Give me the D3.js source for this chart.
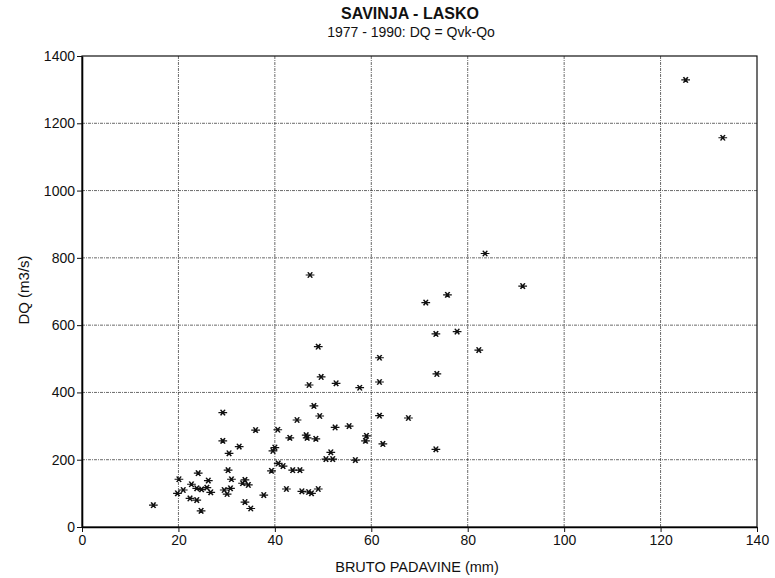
<!DOCTYPE html>
<html>
<head>
<meta charset="utf-8">
<script src="https://cdn.jsdelivr.net/npm/d3@7"></script>
<style>
  body { margin: 0; background: #fff; }
  text { font-family: "Liberation Sans", Arial, sans-serif; fill: #111; }
</style>
</head>
<body>
<div id="chartTarget"></div>
<script>
// rainfall (mm) vs. DQ (m3/s)
const padavine = [
  125.2, 132.9, 83.6, 91.4, 75.8, 71.3, 73.4, 77.8, 82.3, 47.3,
  49.0, 61.7, 73.6, 49.6, 47.1, 52.7, 57.6, 61.7, 48.1, 49.3,
  61.7, 67.7, 44.6, 40.6, 36.0, 43.1, 46.5, 46.7, 48.5, 52.5,
  55.4, 59.0, 58.8, 62.4, 73.4, 39.6, 40.0, 51.6, 50.6, 52.0,
  56.7, 40.7, 41.7, 39.3, 43.7, 45.2, 42.4, 45.6, 47.0, 47.6,
  49.0, 37.7, 29.2, 29.2, 32.6, 30.5, 24.1, 30.3, 20.1, 26.2,
  22.7, 31.0, 33.8, 33.3, 34.5, 23.8, 24.8, 25.9, 26.7, 21.0,
  19.8, 29.5, 30.8, 30.1, 22.4, 23.8, 33.8, 35.0, 14.8, 24.7
];
const dq = [
  1329, 1157, 813, 716, 690, 667, 574, 581, 526, 749,
  536, 503, 455, 446, 422, 427, 414, 431, 360, 330,
  331, 324, 318, 289, 288, 265, 273, 265, 262, 296,
  300, 271, 256, 247, 231, 226, 236, 222, 202, 202,
  199, 189, 181, 167, 169, 169, 113, 106, 104, 100,
  113, 95, 340, 256, 239, 219, 160, 169, 142, 138,
  127, 142, 140, 130, 125, 115, 112, 117, 103, 110,
  100, 110, 115, 98, 85, 80, 74, 55, 65, 48
];
const xTicks = [0, 20, 40, 60, 80, 100, 120, 140];
const yTicks = [0, 200, 400, 600, 800, 1000, 1200, 1400];

const data = padavine.map((p, i) => ({ x: p, y: dq[i] }));

let fullW = 775, fullH = 578;
let margin = {top: 56, right: 18, bottom: 51, left: 82};
let width = fullW - margin.left - margin.right;
let height = fullH - margin.top - margin.bottom;

let svg = d3.select('#chartTarget').append('svg')
  .attr('width', fullW)
  .attr('height', fullH);

let g = svg.append('g')
  .attr('transform', `translate(${margin.left},${margin.top})`);

let x = d3.scaleLinear().domain([0, 140]).range([0, width]);
let y = d3.scaleLinear().domain([0, 1400]).range([height, 0]);

// grid
g.append('g').selectAll('line')
  .data(xTicks.slice(1, -1))
  .enter().append('line')
    .attr('x1', d => x(d)).attr('x2', d => x(d))
    .attr('y1', 0).attr('y2', height)
    .attr('stroke', '#444').attr('stroke-width', 0.8)
    .attr('stroke-dasharray', '3,1,1,1');

g.append('g').selectAll('line')
  .data(yTicks.slice(1, -1))
  .enter().append('line')
    .attr('x1', 0).attr('x2', width)
    .attr('y1', d => y(d)).attr('y2', d => y(d))
    .attr('stroke', '#444').attr('stroke-width', 0.8)
    .attr('stroke-dasharray', '3,1,1,1');

// frame
g.append('rect')
  .attr('width', width).attr('height', height)
  .attr('fill', 'none').attr('stroke', '#111').attr('stroke-width', 1.2);

let xAxis = d3.axisBottom(x).tickValues(xTicks).tickSizeInner(5).tickSizeOuter(0).tickPadding(3)
  .tickFormat(d3.format('d'));
let yAxis = d3.axisLeft(y).tickValues(yTicks).tickSizeInner(5).tickSizeOuter(0).tickPadding(2)
  .tickFormat(d3.format('d'));

g.append('g')
  .attr('transform', `translate(0,${height})`)
  .call(xAxis)
  .call(s => s.select('.domain').attr('stroke-width', 1.6));

g.append('g')
  .call(yAxis)
  .call(s => s.select('.domain').attr('stroke-width', 1.6));

g.selectAll('.tick text').style('font-size', '14px').attr('fill', '#111')
  .style('font-family', '"Liberation Sans", Arial, sans-serif');
g.selectAll('.tick line').attr('stroke', '#111');

// points
let sym = d3.symbol().type(d3.symbolAsterisk).size(40);
g.append('g').selectAll('path')
  .data(data)
  .enter().append('path')
    .attr('d', sym)
    .attr('transform', d => `translate(${x(d.x)},${y(d.y)}) rotate(90) scale(0.85,1.15)`)
    .attr('fill', 'none')
    .attr('stroke', '#111')
    .attr('stroke-width', 1.4);

// titles
svg.append('text')
  .attr('x', 410).attr('y', 19)
  .style('text-anchor', 'middle')
  .style('font-size', '16px').style('font-weight', 'bold')
  .text('SAVINJA - LASKO');

svg.append('text')
  .attr('x', 411).attr('y', 37)
  .style('text-anchor', 'middle')
  .style('font-size', '14px')
  .text('1977 - 1990: DQ = Qvk-Qo');

svg.append('text')
  .attr('x', 417).attr('y', 572)
  .style('text-anchor', 'middle')
  .style('font-size', '14.5px')
  .text('BRUTO PADAVINE (mm)');

svg.append('text')
  .attr('transform', 'rotate(-90)')
  .attr('x', -290).attr('y', 29)
  .style('text-anchor', 'middle')
  .style('font-size', '15px')
  .text('DQ (m3/s)');
</script>
</body>
</html>
